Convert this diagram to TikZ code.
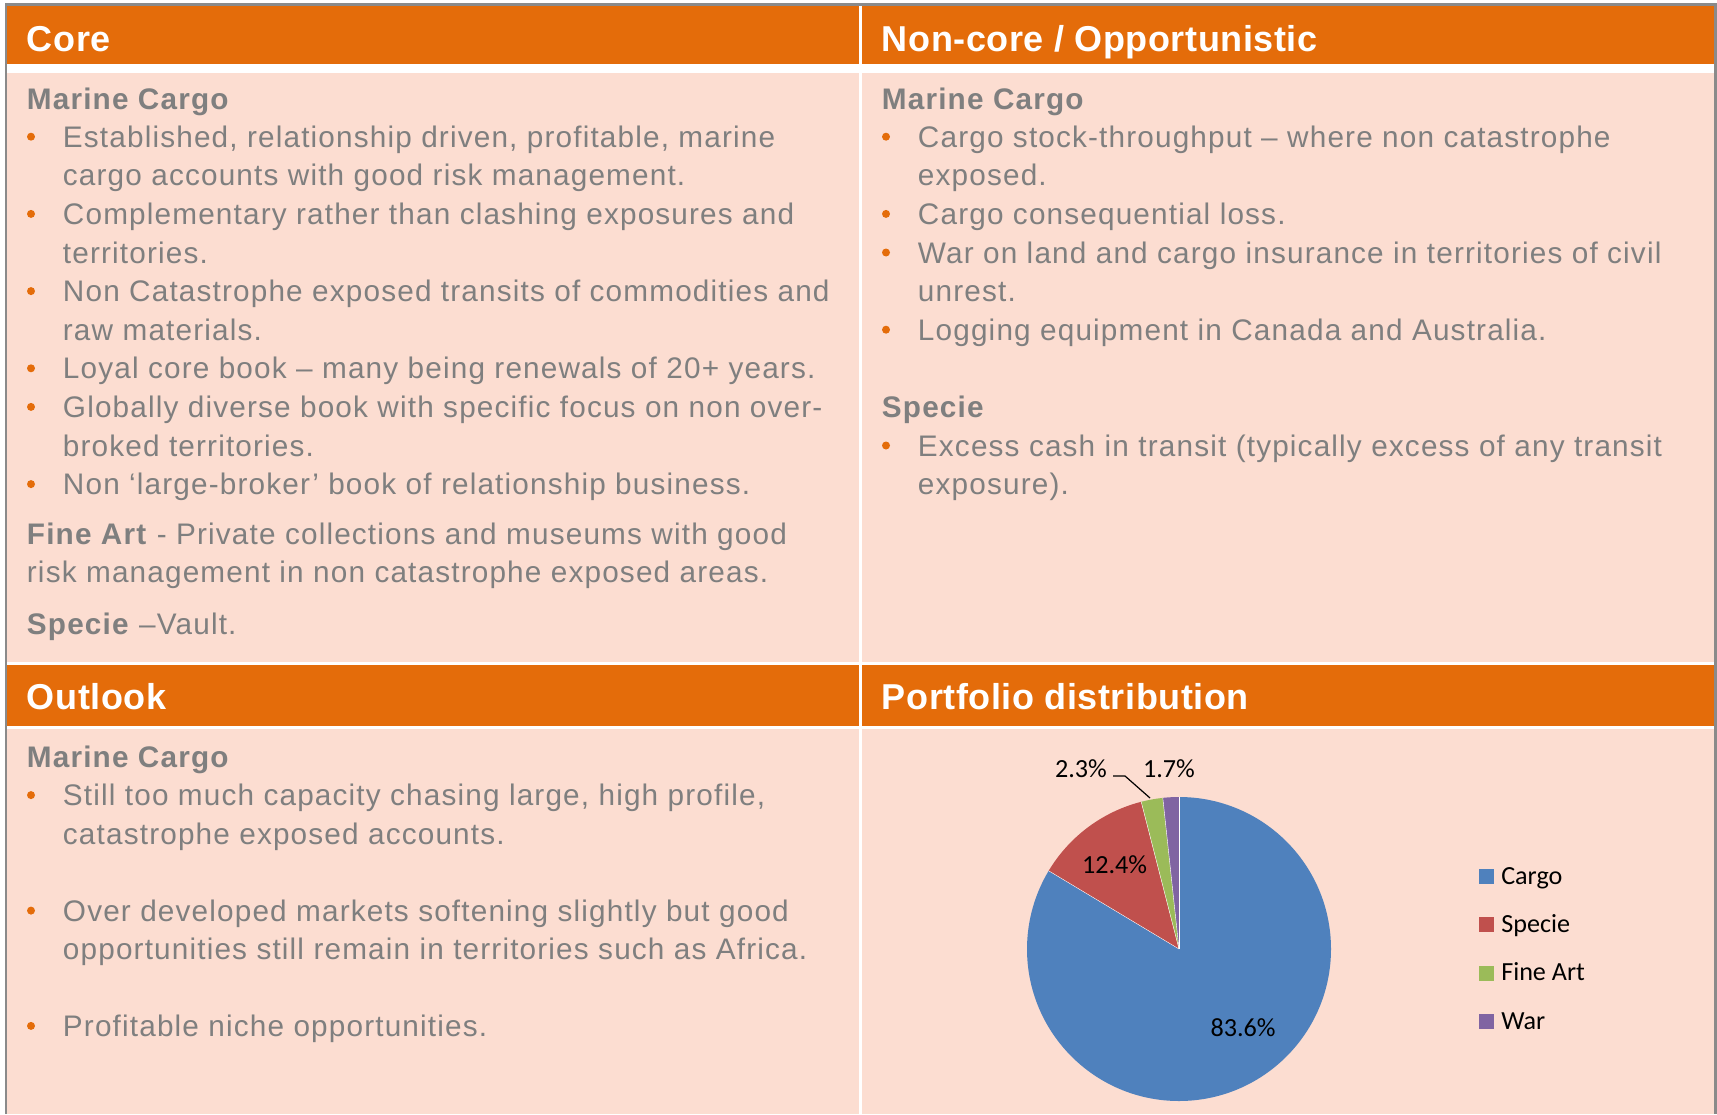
\documentclass[tikz,border=0pt]{standalone}
\usepackage{fontspec}
\setmainfont{Liberation Sans}[LetterSpace=3.9]
\newfontfamily\hdrfont{Liberation Sans}[LetterSpace=1.5]
\newfontfamily\calibri{Carlito}
\definecolor{orng}{HTML}{E46C0A}
\definecolor{pnk}{HTML}{FCDDD1}
\definecolor{txtgray}{HTML}{7F7F7F}
\definecolor{bordergray}{HTML}{8A8A8A}
\definecolor{pblue}{HTML}{4F81BD}
\definecolor{pred}{HTML}{C0504D}
\definecolor{pgreen}{HTML}{9BBB59}
\definecolor{ppurple}{HTML}{8064A2}
\newcommand{\bul}[2]{\fill[orng] (#1,#2) circle[radius=4];}
\begin{document}
\begin{tikzpicture}[x=0.75pt,y=-0.75pt,
  hdr/.style={anchor=base west, inner sep=0pt, text=white, font=\hdrfont\fontsize{27}{32}\selectfont\bfseries},
  bt/.style={anchor=base west, inner sep=0pt, text=txtgray, font=\fontsize{22.3}{26}\selectfont},
  bh/.style={anchor=base west, inner sep=0pt, text=txtgray, font=\fontsize{22.3}{26}\selectfont\bfseries},
  pl/.style={inner sep=0pt, text=black, font=\calibri\fontsize{19.6}{22}\selectfont},
  lg/.style={anchor=base west, inner sep=0pt, text=black, font=\calibri\fontsize{19.6}{22}\selectfont},
  slice/.style={draw=white, line width=0.3pt}
]
\useasboundingbox (0,0) rectangle (1717,1114);
\fill[white] (0,0) rectangle (1717,1114);
% outer frame
\fill[bordergray] (5,3.3) rectangle (1717,1114);
% cells
\fill[white] (7.3,6) rectangle (1714.3,1114);
\fill[orng] (7.3,6) rectangle (859,64.3);
\fill[orng] (862,6) rectangle (1714.3,64.3);
\fill[pnk] (7.3,72.7) rectangle (859,661.7);
\fill[pnk] (862,72.7) rectangle (1714.3,661.7);
\fill[orng] (7.3,665) rectangle (859,725.7);
\fill[orng] (862,665) rectangle (1714.3,725.7);
\fill[pnk] (7.3,729.3) rectangle (859,1114);
\fill[pnk] (862,729.3) rectangle (1714.3,1114);

% headers
\node[hdr] (hcore) at (26.7,51) {Core};
\node[hdr] (hnon) at (881.7,51) {Non-core / Opportunistic};
\node[hdr] (hout) at (26.7,709.3) {Outlook};
\node[hdr] (hport) at (881.7,709.3) {Portfolio distribution};

% Core column
\node[bh] (cmc) at (26.7,109.5) {Marine Cargo};
\node[bt] (c1) at (62.7,147.3) {Established, relationship driven, profitable, marine};
\node[bt] (c2) at (62.7,185.9) {cargo accounts with good risk management.};
\node[bt] (c3) at (62.7,224.5) {Complementary rather than clashing exposures and};
\node[bt] (c4) at (62.7,263.1) {territories.};
\node[bt] (c5) at (62.7,301.7) {Non Catastrophe exposed transits of commodities and};
\node[bt] (c6) at (62.7,340.3) {raw materials.};
\node[bt] (c7) at (62.7,378.9) {Loyal core book -- many being renewals of 20+ years.};
\node[bt] (c8) at (62.7,417.5) {Globally diverse book with specific focus on non over-};
\node[bt] (c9) at (62.7,456.1) {broked territories.};
\node[bt] (c10) at (62.7,494.7) {Non ‘large-broker’ book of relationship business.};
\node[bt] (cfa1) at (26.7,544.3) {\textbf{Fine Art} - Private collections and museums with good};
\node[bt] (cfa2) at (26.7,582.7) {risk management in non catastrophe exposed areas.};
\node[bt] (csp) at (26.7,634) {\textbf{Specie} --Vault.};
\bul{31}{136.7}
\bul{31}{213.9}
\bul{31}{291.1}
\bul{31}{368.3}
\bul{31}{406.9}
\bul{31}{484.1}

% Non-core column
\node[bh] (nmc) at (881.7,109.5) {Marine Cargo};
\node[bt] (n1) at (917.7,147.3) {Cargo stock-throughput -- where non catastrophe};
\node[bt] (n2) at (917.7,185.9) {exposed.};
\node[bt] (n3) at (917.7,224.5) {Cargo consequential loss.};
\node[bt] (n4) at (917.7,263.1) {War on land and cargo insurance in territories of civil};
\node[bt] (n5) at (917.7,301.7) {unrest.};
\node[bt] (n6) at (917.7,340.3) {Logging equipment in Canada and Australia.};
\node[bh] (nsp) at (881.7,417.5) {Specie};
\node[bt] (n7) at (917.7,456.1) {Excess cash in transit (typically excess of any transit};
\node[bt] (n8) at (917.7,494.7) {exposure).};
\bul{886}{136.7}
\bul{886}{213.9}
\bul{886}{252.5}
\bul{886}{329.7}
\bul{886}{445.5}

% Outlook column
\node[bh] (omc) at (26.7,767.7) {Marine Cargo};
\node[bt] (o1) at (62.7,805.7) {Still too much capacity chasing large, high profile,};
\node[bt] (o2) at (62.7,844.3) {catastrophe exposed accounts.};
\node[bt] (o3) at (62.7,921.2) {Over developed markets softening slightly but good};
\node[bt] (o4) at (62.7,959.8) {opportunities still remain in territories such as Africa.};
\node[bt] (o5) at (62.7,1036.5) {Profitable niche opportunities.};
\bul{31}{795.1}
\bul{31}{910.6}
\bul{31}{1025.9}

% Pie chart
\begin{scope}[shift={(1179,949)}, yscale=-1]
  \fill[pblue] (0,0) -- (90:152) arc[start angle=90, end angle=-210.96, radius=152] -- cycle;
  \fill[pred] (0,0) -- (-210.96:152) arc[start angle=-210.96, end angle=-255.6, radius=152] -- cycle;
  \fill[pgreen] (0,0) -- (-255.6:152) arc[start angle=-255.6, end angle=-263.88, radius=152] -- cycle;
  \fill[ppurple] (0,0) -- (-263.88:152) arc[start angle=-263.88, end angle=-270, radius=152] -- cycle;
  \draw[slice] (0,0) -- (90:152);
  \draw[slice] (0,0) -- (-210.96:152);
  \draw[slice] (0,0) -- (-255.6:152);
  \draw[slice] (0,0) -- (-263.88:152);
\end{scope}
\node[pl] (p836) at (1243,1028) {83.6\%};
\node[pl] (p124) at (1114.5,865) {12.4\%};
\node[pl] (p23) at (1081,769) {2.3\%};
\node[pl] (p17) at (1169,769) {1.7\%};
\coordinate (ld1) at (1113,776);
\coordinate (ld2) at (1125,776);
\coordinate (ld3) at (1150,798);
\draw[black, line width=0.9pt] (ld1) -- (ld2) -- (ld3);

% Legend
\fill[pblue] (1479,869) rectangle (1494,884);
\fill[pred] (1479,917.3) rectangle (1494,932.3);
\fill[pgreen] (1479,965.6) rectangle (1494,980.6);
\fill[ppurple] (1479,1014) rectangle (1494,1029);
\node[lg] (lcargo) at (1501,884.3) {Cargo};
\node[lg] (lspecie) at (1501,932.6) {Specie};
\node[lg] (lfine) at (1501,980.9) {Fine Art};
\node[lg] (lwar) at (1501,1029.2) {War};
\end{tikzpicture}
\end{document}
